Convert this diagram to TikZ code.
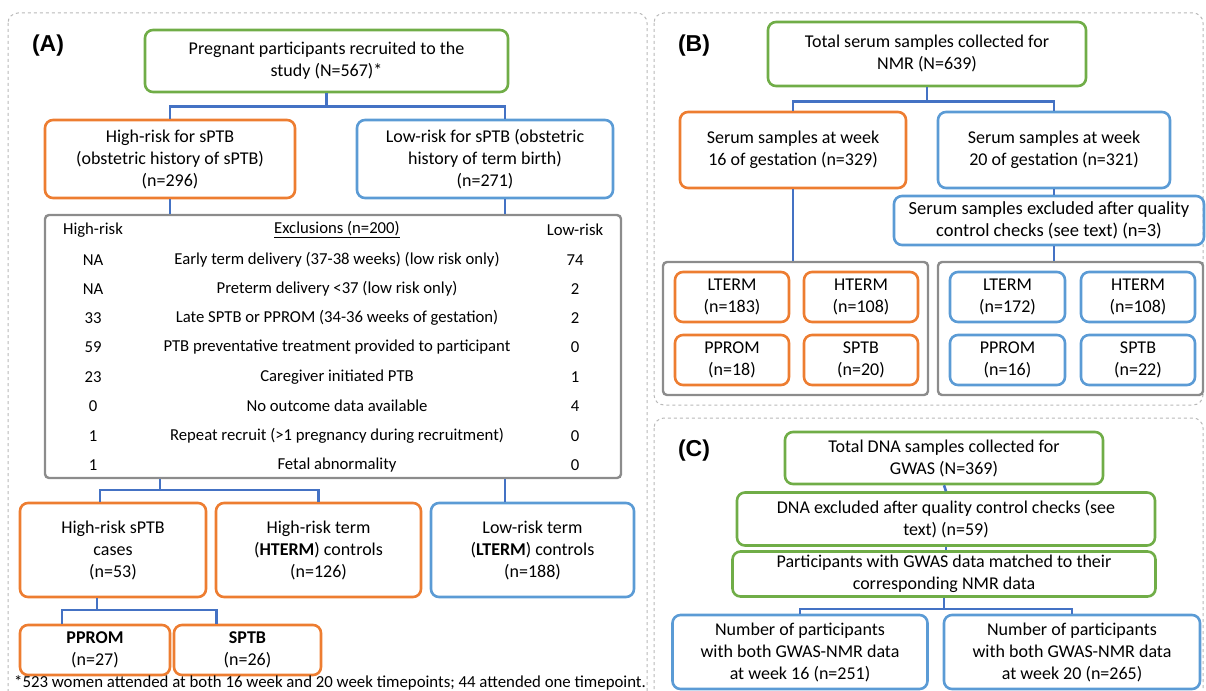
\documentclass[tikz,border=0pt]{standalone}
\usepackage{fontspec}
\setmainfont{Carlito}
\newfontfamily\lblfont{Liberation Sans}
\usetikzlibrary{positioning,calc}
\definecolor{grn}{HTML}{70AD47}
\definecolor{org}{HTML}{ED7D31}
\definecolor{blu}{HTML}{5B9BD5}
\definecolor{lnk}{HTML}{4472C4}
\definecolor{gry}{HTML}{8C8C8C}
\colorlet{dashgray}{gray!55}

\tikzset{
	box/.style={draw, rounded corners=8pt, line width=2.6pt, align=center, inner sep=0pt, font=\fontsize{18}{22}\selectfont},
	grnbox/.style={box, draw=grn},
	orgbox/.style={box, draw=org},
	blubox/.style={box, draw=blu},
	grybox/.style={draw=gry, rounded corners=4pt, line width=2.4pt, inner sep=0pt},
	tbl/.style={font=\fontsize{16.7}{18}\selectfont, inner sep=0pt},
	link/.style={draw=lnk, line width=2.6pt},
	panel/.style={draw=dashgray, dashed, rounded corners=10pt, line width=1pt},
	lbl/.style={font=\lblfont\bfseries\fontsize{23}{26}\selectfont, inner sep=0pt}
}

\begin{document}
\begin{tikzpicture}[x=1pt, y=-1pt, >=latex]
				\clip (0,0) rectangle (1206,690);
				% (A) recruitment
				\draw[panel] (8,13) rectangle (647,705);
				\node[lbl] (labA) at (48,46) {(A)};
				\node[grnbox, minimum width=363, minimum height=62] (rec) at (326.5,61) {Pregnant participants recruited to the\\study (N=567)*};
				\node[orgbox, minimum width=250, minimum height=78] (hrisk) at (170,159) {High-risk for sPTB\\(obstetric history of sPTB)\\(n=296)};
				\node[blubox, minimum width=256, minimum height=78] (lrisk) at (485,159) {Low-risk for sPTB (obstetric\\history of term birth)\\(n=271)};
				\node[grybox, minimum width=576, minimum height=263] (excl) at (333,346.5) {};
				\node[tbl] (h0) at (93,230) {High-risk};\node[tbl] (e0) at (337,230) {\underline{Exclusions (n=200)}};\node[tbl] (l0) at (575,230) {Low-risk};
				\node[tbl] (h1) at (93,260) {NA};\node[tbl] (e1) at (337,260) {Early term delivery (37-38 weeks) (low risk only)};\node[tbl] (l1) at (575,260) {74};
				\node[tbl] (h2) at (93,289) {NA};\node[tbl] (e2) at (337,289) {Preterm delivery <37 (low risk only)};\node[tbl] (l2) at (575,289) {2};
				\node[tbl] (h3) at (93,318) {33};\node[tbl] (e3) at (337,318) {Late SPTB or PPROM (34-36 weeks of gestation)};\node[tbl] (l3) at (575,318) {2};
				\node[tbl] (h4) at (93,347) {59};\node[tbl] (e4) at (337,347) {PTB preventative treatment provided to participant};\node[tbl] (l4) at (575,347) {0};
				\node[tbl] (h5) at (93,377) {23};\node[tbl] (e5) at (337,377) {Caregiver initiated PTB};\node[tbl] (l5) at (575,377) {1};
				\node[tbl] (h6) at (93,406) {0};\node[tbl] (e6) at (337,406) {No outcome data available};\node[tbl] (l6) at (575,406) {4};
				\node[tbl] (h7) at (93,436) {1};\node[tbl] (e7) at (337,436) {Repeat recruit (>1 pregnancy during recruitment)};\node[tbl] (l7) at (575,436) {0};
				\node[tbl] (h8) at (93,465) {1};\node[tbl] (e8) at (337,465) {Fetal abnormality};\node[tbl] (l8) at (575,465) {0};
				\node[orgbox, minimum width=186, minimum height=94] (cases) at (113,550) {High-risk sPTB\\cases\\(n=53)};
				\node[orgbox, minimum width=205, minimum height=94] (hterm) at (318.5,550) {High-risk term\\(\textbf{HTERM}) controls\\(n=126)};
				\node[blubox, minimum width=203, minimum height=94] (lterm) at (532.5,550) {Low-risk term\\(\textbf{LTERM}) controls\\(n=188)};
				\node[orgbox, minimum width=150, minimum height=50] (pprom) at (95,650) {\textbf{PPROM}\\(n=27)};
				\node[orgbox, minimum width=147, minimum height=50] (sptb) at (247.5,650) {\textbf{SPTB}\\(n=26)};
				\node[tbl, font=\fontsize{16.8}{18}\selectfont] (note) at (330,683) {*523 women attended at both 16 week and 20 week timepoints; 44 attended one timepoint.};
				\draw[link] (rec.south) -- ++(0,13) coordinate (ja);
				\draw[link] (hrisk.north) |- (ja) -| ([xshift=20]lrisk.north);
				\draw[link] (hrisk.south) -- (hrisk.south |- excl.north);\draw[link] ([xshift=20]lrisk.south) -- ([xshift=20]lrisk.south |- excl.north);
				\coordinate (jb) at (160,490);
				\draw[link] (jb |- excl.south) -- (jb);
				\draw[link] ([xshift=-13]cases.north) |- (jb) -| (hterm.north);
				\draw[link] ([xshift=20]lrisk.south |- excl.south) -- ([xshift=20]lrisk.south |- lterm.north);
				\coordinate (jc) at (97,610);
				\draw[link] (jc |- cases.south) -- (jc);
				\draw[link] ([xshift=-33]pprom.north) |- (jc) -| ([xshift=-31]sptb.north);
				% (B) serum samples
				\draw[panel] (654,13) rectangle (1203,405);
				\node[lbl] (labB) at (694,46) {(B)};
				\node[grnbox, minimum width=318, minimum height=64] (serum) at (927,54) {Total serum samples collected for\\NMR (N=639)};
				\node[orgbox, minimum width=226, minimum height=76] (wk16) at (793,150) {Serum samples at week\\16 of gestation (n=329)};
				\node[blubox, minimum width=232, minimum height=76] (wk20) at (1054,150) {Serum samples at week\\20 of gestation (n=321)};
				\node[blubox, minimum width=310, minimum height=49, font=\fontsize{18.5}{22}\selectfont] (qc) at (1049,220.5) {Serum samples excluded after quality\\control checks (see text) (n=3)};
				\node[grybox, minimum width=265, minimum height=133] (g16) at (795.5,328.5) {};
				\node[grybox, minimum width=265, minimum height=133] (g20) at (1070.5,328.5) {};
				\node[orgbox, minimum width=114, minimum height=50] (lt16) at (732,297) {LTERM\\(n=183)};
				\node[orgbox, minimum width=114, minimum height=50] (ht16) at (861,297) {HTERM\\(n=108)};
				\node[orgbox, minimum width=114, minimum height=50] (pp16) at (732,360) {PPROM\\(n=18)};
				\node[orgbox, minimum width=114, minimum height=50] (sp16) at (861,360) {SPTB\\(n=20)};
				\node[blubox, minimum width=115, minimum height=50] (lt20) at (1007.5,297) {LTERM\\(n=172)};
				\node[blubox, minimum width=114, minimum height=50] (ht20) at (1138,297) {HTERM\\(n=108)};
				\node[blubox, minimum width=115, minimum height=50] (pp20) at (1007.5,360) {PPROM\\(n=16)};
				\node[blubox, minimum width=114, minimum height=50] (sp20) at (1138,360) {SPTB\\(n=22)};
				\draw[link] (serum.south) -- ++(0,14) coordinate (jd);
				\draw[link] (wk16.north) |- (jd) -| (wk20.north);
				\draw[link] (wk16.south) -- (wk16.south |- g16.north);
				\draw[link] (wk20.south) -- (wk20.south |- qc.north);\draw[link] (wk20.south |- qc.south) -- (wk20.south |- g20.north);
				% (C) DNA samples
				\draw[panel] (654,418) rectangle (1203,705);
				\node[lbl] (labC) at (694,451) {(C)};
				\node[grnbox, minimum width=318, minimum height=52] (dna) at (944,458) {Total DNA samples collected for\\GWAS (N=369)};
				\node[grnbox, minimum width=418, minimum height=53] (dnaqc) at (946,519) {DNA excluded after quality control checks (see\\text) (n=59)};
				\node[grnbox, minimum width=423, minimum height=45] (match) at (944,574) {Participants with GWAS data matched to their\\corresponding NMR data};
				\node[blubox, minimum width=255, minimum height=74] (gw16) at (800,652) {Number of participants\\with both GWAS-NMR data\\at week 16 (n=251)};
				\node[blubox, minimum width=256, minimum height=74] (gw20) at (1072,652) {Number of participants\\with both GWAS-NMR data\\at week 20 (n=265)};
				\draw[link] (dna.south) -- (dnaqc.north);\draw[link] (dnaqc.south) -- (dnaqc.south |- match.north);
				\draw[link] (match.south) -- ++(0,11) coordinate (je);
				\draw[link] (gw16.north) |- (je) -| (gw20.north);
			\end{tikzpicture}
\end{document}
